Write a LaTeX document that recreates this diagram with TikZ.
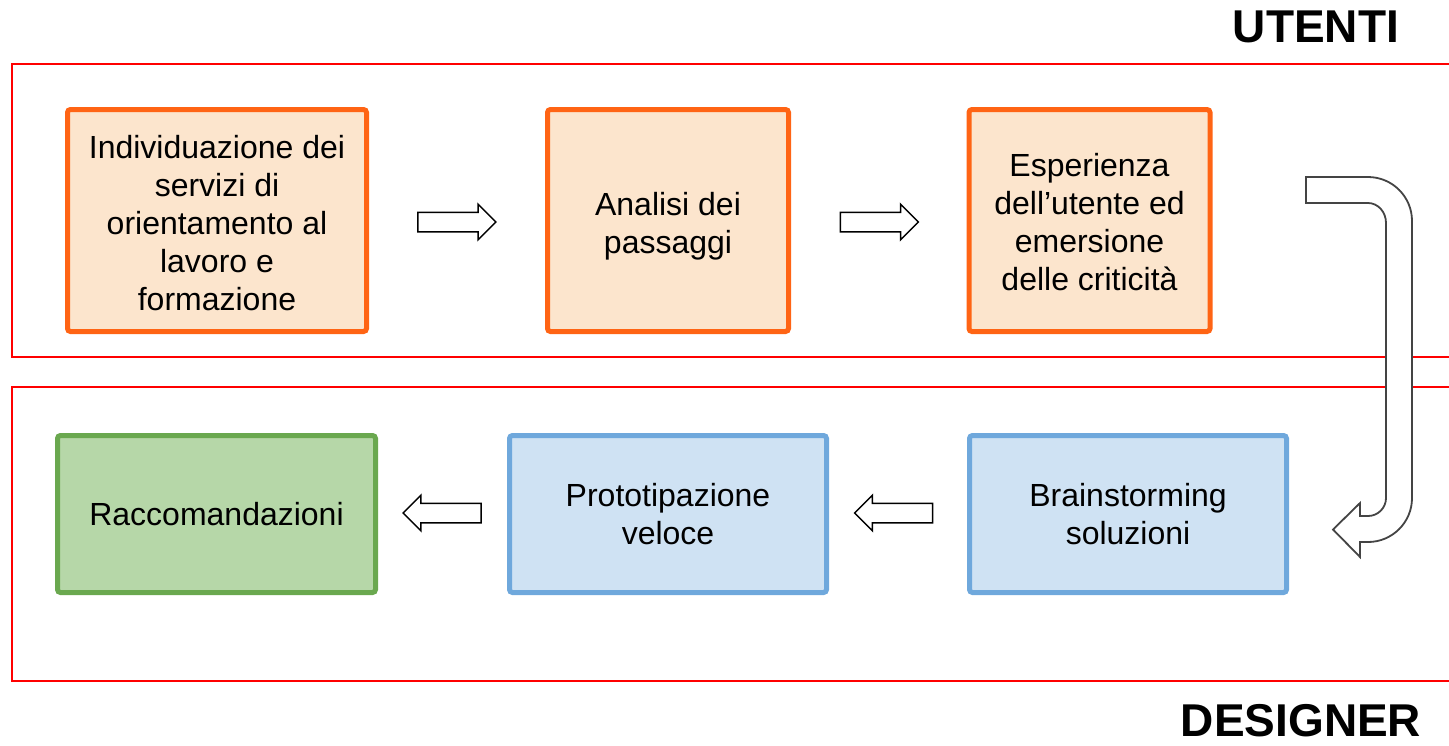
\documentclass[tikz,border=0pt]{standalone}
\usepackage{fontspec}
\setmainfont{Liberation Sans}
\usetikzlibrary{shapes.arrows,calc}
\definecolor{orangeB}{HTML}{FF6414}
\definecolor{orangeF}{HTML}{FCE5CD}
\definecolor{greenB}{HTML}{6AA84F}
\definecolor{greenF}{HTML}{B6D7A8}
\definecolor{blueB}{HTML}{6FA8DC}
\definecolor{blueF}{HTML}{CFE2F3}
\definecolor{uturn}{HTML}{444444}
\newcommand{\boxtext}[2]{\raisebox{-#1}[\height][\depth]{\begin{tabular}{@{}c@{}}#2\end{tabular}}}
\tikzset{
  stepbox/.style={draw, line width=2.5pt, rounded corners=1.5pt, inner sep=0pt, align=center,
    font=\fontsize{16}{19}\selectfont},
  userbox/.style={stepbox, draw=orangeB, fill=orangeF, minimum width=149.5pt, minimum height=111pt},
  userboxs/.style={stepbox, draw=orangeB, fill=orangeF, minimum width=120.5pt, minimum height=111pt},
  desbox/.style={stepbox, draw=blueB, fill=blueF, minimum width=158.5pt, minimum height=78.5pt},
  recbox/.style={stepbox, draw=greenB, fill=greenF, minimum width=159pt, minimum height=78.5pt},
  blockarrow/.style={single arrow, draw=black, fill=white, line width=0.75pt, inner xsep=0pt,
    inner ysep=4.5pt, single arrow head extend=4pt, single arrow tip angle=90,
    minimum height=39pt, minimum width=0pt},
  lane/.style={draw=red, line width=1pt},
  header/.style={font=\fontsize{23}{27}\selectfont\bfseries, inner sep=0pt}
}
\begin{document}
\begin{tikzpicture}[x=0.5pt, y=-0.5pt]
\useasboundingbox (0,0) rectangle (1449,745);
% lanes
\draw[lane] (1470,64) -- (12,64) -- (12,357) -- (1470,357);
\draw[lane] (1470,387) -- (12,387) -- (12,681) -- (1470,681);
% headers
\node[header] (utenti) at (1316,27) {UTENTI};
\node[header] (designer) at (1301,721) {DESIGNER};
% boxes
\node[userbox] (b1) at (217,220.5) {\boxtext{3pt}{Individuazione dei\\servizi di\\orientamento al\\lavoro e\\formazione}};
\node[userboxs] (b2) at (668,220.5) {\boxtext{3pt}{Analisi dei\\passaggi}};
\node[userboxs] (b3) at (1089.5,220.5) {\boxtext{2.5pt}{Esperienza\\dell’utente ed\\emersione\\delle criticità}};
\node[recbox] (b4) at (216.5,514) {Raccomandazioni};
\node[desbox] (b5) at (668,514) {Prototipazione\\veloce};
\node[desbox] (b6) at (1128,514) {Brainstorming\\soluzioni};
% block arrows
\node[blockarrow] (a1) at (452,222) {};
\node[blockarrow] (a2) at (874.5,222) {};
\node[blockarrow, shape border rotate=180] (a3) at (447,513) {};
\node[blockarrow, shape border rotate=180] (a4) at (898.5,513) {};
% u-turn arrow
\draw[uturn, line width=0.9pt, fill=white, line join=miter]
  (1306,177) -- (1368,177)
  .. controls (1392.3,177) and (1412,196.7) .. (1412,221)
  -- (1412,498)
  .. controls (1412,522.3) and (1392.3,542) .. (1368,542)
  -- (1360,542) -- (1360,557) -- (1333,529.5) -- (1360,503) -- (1360,516) -- (1368,516)
  .. controls (1377.9,516) and (1386,507.9) .. (1386,498)
  -- (1386,223)
  .. controls (1386,212) and (1378,203) .. (1368,203)
  -- (1306,203) -- cycle;
\end{tikzpicture}
\end{document}
